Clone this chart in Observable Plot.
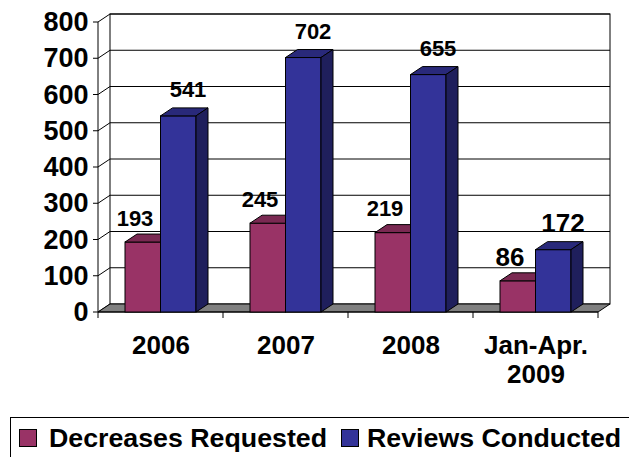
<!DOCTYPE html>
<html><head><meta charset="utf-8">
<script src="https://cdn.jsdelivr.net/npm/d3@7"></script>
<script src="https://cdn.jsdelivr.net/npm/@observablehq/plot@0.6"></script>
<style>
html,body{margin:0;padding:0;background:#fff;overflow:hidden;width:629px;height:457px;}
body{font-family:"Liberation Sans",Arial,sans-serif;position:relative;}
#chart{position:absolute;left:0;top:0;}
#legend{position:absolute;left:10px;top:417px;width:640px;height:60px;border:1px solid #000;box-sizing:border-box;}
.sw{position:absolute;top:11px;width:18px;height:18px;border:1px solid #000;box-sizing:border-box;}
.lt{position:absolute;top:6px;font-weight:bold;font-size:25px;line-height:28px;white-space:nowrap;transform-origin:left center;transform:scaleX(1.07);}
</style></head><body>
<div id="chart"></div>
<div id="legend"></div>
<script>
const categories = ["2006", "2007", "2008", "Jan-Apr.\n2009"];
const decreasesRequested = [193, 245, 219, 86];
const reviewsConducted = [541, 702, 655, 172];
const seriesNames = ["Decreases Requested", "Reviews Conducted"];
const seriesColors = ["#993366", "#333399"];
const topColors = ["#7a2952", "#29297a"];
const sideColors = ["#5c1f3d", "#1f1f5c"];
const yTicks = [0, 100, 200, 300, 400, 500, 600, 700, 800];

const rows = [];
categories.forEach((c, i) => {
  rows.push({cat: c, k: 0, value: decreasesRequested[i], big: i === 3});
  rows.push({cat: c, k: 1, value: reviewsConducted[i], big: i === 3});
});

const DX = 12, DY = -8;
const BAR_FRAC = 0.284;

function poly(g, pts, fill) {
  g.append("polygon").attr("points", pts.map(p => p.join(",")).join(" "))
    .attr("fill", fill).attr("stroke", "#000").attr("stroke-width", 1).attr("stroke-linejoin", "round");
}
function line(g, x1, y1, x2, y2, w = 1) {
  g.append("line").attr("x1", x1).attr("y1", y1).attr("x2", x2).attr("y2", y2)
    .attr("stroke", "#000").attr("stroke-width", w);
}

function frame3d(index, scales) {
  const {x, y} = scales;
  const bw = x.bandwidth();
  const xs = x(categories[0]);
  const xe = x(categories[categories.length - 1]) + bw;
  const y0 = y(0), yTop = y(yTicks[yTicks.length - 1]);
  const g = d3.create("svg:g");
  g.append("rect").attr("x", xs + DX).attr("y", yTop + DY).attr("width", xe - xs)
    .attr("height", y0 - yTop).attr("fill", "#fff").attr("stroke", "#000");
  for (const v of yTicks) {
    const yy = y(v);
    if (v > 0) line(g, xs + DX, yy + DY, xe + DX, yy + DY);
    line(g, xs, yy, xs + DX, yy + DY);
    line(g, xs - 5, yy, xs, yy);
  }
  poly(g, [[xs, y0], [xe, y0], [xe + DX, y0 + DY], [xs + DX, y0 + DY]], "#808080");
  line(g, xs, y0, xs, yTop);
  line(g, xs, y0, xe, y0);
  for (let i = 0; i <= categories.length; i++) {
    const xx = xs + i * bw;
    line(g, xx, y0, xx, y0 + 6);
  }
  return g.node();
}

function bars3d(index, scales) {
  const {x, y} = scales;
  const bw = x.bandwidth();
  const w = bw * BAR_FRAC;
  const g = d3.create("svg:g");
  const y0 = y(0);
  for (const r of rows) {
    const x0 = x(r.cat) + bw / 2 + (r.k - 1) * w;
    const x1 = x0 + w;
    const yt = y(r.value);
    g.append("rect").attr("x", x0).attr("y", yt).attr("width", w).attr("height", y0 - yt)
      .attr("fill", seriesColors[r.k]).attr("stroke", "#000");
    poly(g, [[x0, yt], [x0 + DX, yt + DY], [x1 + DX, yt + DY], [x1, yt]], topColors[r.k]);
    poly(g, [[x1, yt], [x1 + DX, yt + DY], [x1 + DX, y0 + DY], [x1, y0]], sideColors[r.k]);
  }
  return g.node();
}

const font = "'Liberation Sans', Arial, Helvetica, sans-serif";

const chart = Plot.plot({
  width: 629,
  height: 410,
  marginLeft: 97,
  marginRight: 31,
  marginTop: 22,
  marginBottom: 98,
  x: {type: "band", domain: categories, padding: 0, axis: null},
  y: {domain: [0, 800], axis: null},
  style: {fontFamily: font, fontWeight: "bold", color: "#000", background: "#fff", overflow: "visible"},
  marks: [
    frame3d,
    bars3d,
    Plot.text(yTicks, {y: d => d, text: d => String(d), frameAnchor: "left", textAnchor: "end", dx: -9, fontSize: 27, fill: "#000"}),
    Plot.text(categories, {x: d => d, y: () => 0, text: d => d, lineAnchor: "top", dy: 21, fontSize: 26, lineHeight: 1.12, fill: "#000"}),
    Plot.text(rows.filter(r => r.k === 0), {x: "cat", y: "value", text: d => String(d.value), dx: -26, dy: -24, fontSize: d => d.big ? 26 : 22, fill: "#000"}),
    Plot.text(rows.filter(r => r.k === 1), {x: "cat", y: "value", text: d => String(d.value), dx: 27, dy: -26, fontSize: d => d.big ? 26 : 22, fill: "#000"})
  ]
});
document.getElementById("chart").append(chart);

const legend = document.getElementById("legend");
const legendPos = [[8, 38], [330, 356]];
seriesNames.forEach((name, i) => {
  const sw = document.createElement("div");
  sw.className = "sw";
  sw.style.left = legendPos[i][0] + "px";
  sw.style.background = seriesColors[i];
  legend.append(sw);
  const t = document.createElement("div");
  t.className = "lt";
  t.style.left = legendPos[i][1] + "px";
  t.textContent = name;
  legend.append(t);
});
</script>
</body></html>
